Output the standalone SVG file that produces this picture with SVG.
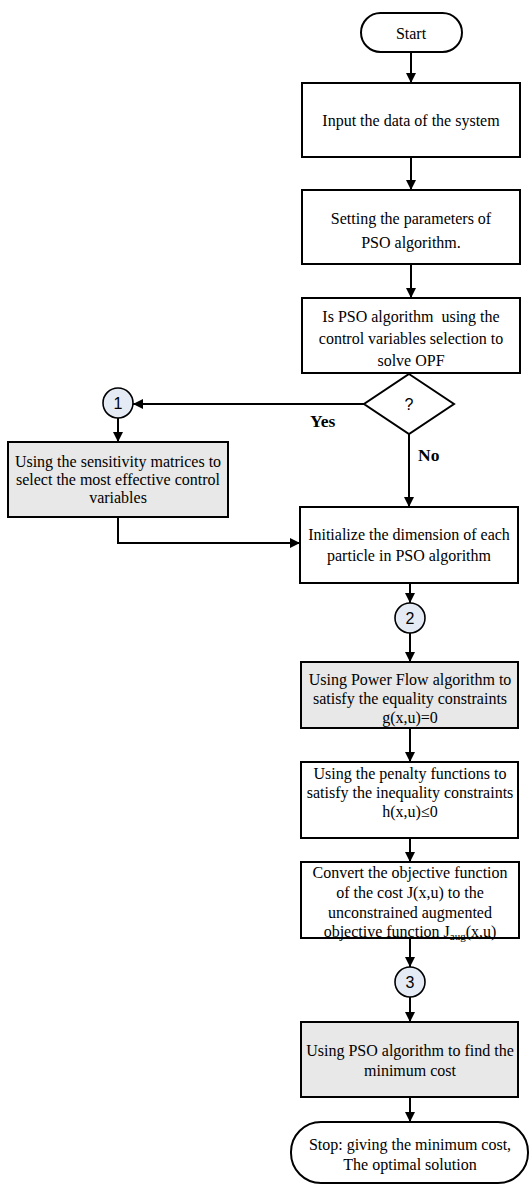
<svg xmlns="http://www.w3.org/2000/svg" width="531" height="1186" viewBox="0 0 531 1186">
<defs>
<marker id="ah" viewBox="0 0 10 10" refX="10" refY="5" markerWidth="5" markerHeight="5" orient="auto" markerUnits="strokeWidth">
<path d="M0,0 L10,5 L0,10 z" fill="#000"/>
</marker>
<style>
.b{fill:#fff;stroke:#000;stroke-width:2}
.g{fill:#e8e8e8;stroke:#000;stroke-width:2}
.c{fill:#e4ebf5;stroke:#000;stroke-width:1.6}
.t{font-family:"Liberation Serif",serif;font-size:16px;fill:#000;text-anchor:middle}
.n{font-family:"Liberation Sans",sans-serif;font-size:16px;fill:#000;text-anchor:middle}
.l{font-family:"Liberation Serif",serif;font-size:17.5px;font-weight:bold;fill:#000}
.e{fill:none;stroke:#000;stroke-width:2}
</style>
</defs>
<rect width="531" height="1186" fill="#fff"/>
<g id="connectors" class="e">
<line x1="411" y1="52" x2="411" y2="83" marker-end="url(#ah)"/>
<line x1="411" y1="157" x2="411" y2="190" marker-end="url(#ah)"/>
<line x1="411" y1="264" x2="411" y2="298" marker-end="url(#ah)"/>
<line x1="364" y1="404" x2="133" y2="404" marker-end="url(#ah)"/>
<line x1="118" y1="418" x2="118" y2="442" marker-end="url(#ah)"/>
<polyline points="118,517 118,543 300,543" marker-end="url(#ah)"/>
<line x1="409" y1="434" x2="409" y2="507" marker-end="url(#ah)"/>
<line x1="410" y1="583" x2="410" y2="603" marker-end="url(#ah)"/>
<line x1="410" y1="633" x2="410" y2="662" marker-end="url(#ah)"/>
<line x1="410" y1="728" x2="410" y2="762" marker-end="url(#ah)"/>
<line x1="410" y1="838" x2="410" y2="862" marker-end="url(#ah)"/>
<line x1="410" y1="938" x2="410" y2="967" marker-end="url(#ah)"/>
<line x1="410" y1="997" x2="410" y2="1022" marker-end="url(#ah)"/>
<line x1="410" y1="1097" x2="410" y2="1122" marker-end="url(#ah)"/>
</g>
<g id="start">
<rect class="b" x="361" y="13" width="101" height="39" rx="19.5"/>
<text class="t" x="411" y="39" font-size="18px">Start</text>
</g>
<g id="input">
<rect class="b" x="302" y="83" width="218" height="74"/>
<text class="t" x="411" y="126" font-size="17.5px">Input the data of the system</text>
</g>
<g id="params">
<rect class="b" x="302" y="190" width="218" height="74"/>
<text class="t" x="411" y="224" font-size="17.5px">Setting the parameters of</text>
<text class="t" x="411" y="248" font-size="17.5px">PSO algorithm.</text>
</g>
<g id="question">
<rect class="b" x="302" y="298" width="218" height="75"/>
<text class="t" x="411" y="322" font-size="16.5px" xml:space="preserve">Is PSO algorithm  using the</text>
<text class="t" x="411" y="344" font-size="16.5px">control variables selection to</text>
<text class="t" x="411" y="366" font-size="16.5px">solve OPF</text>
</g>
<g id="decision">
<polygon class="b" points="409,374 454,404 409,434 364,404"/>
<text class="n" x="409" y="410" font-size="17px">?</text>
<text class="l" x="310" y="427">Yes</text>
<text class="l" x="418" y="461">No</text>
</g>
<g id="c1">
<circle class="c" cx="118" cy="403" r="15"/>
<text class="n" x="118" y="409">1</text>
</g>
<g id="sensitivity">
<rect class="g" x="8" y="442" width="220" height="75"/>
<text class="t" x="118" y="467">Using the sensitivity matrices to</text>
<text class="t" x="118" y="485">select the most effective control</text>
<text class="t" x="118" y="503">variables</text>
</g>
<g id="init">
<rect class="b" x="300" y="507" width="218" height="76"/>
<text class="t" x="409" y="540">Initialize the dimension of each</text>
<text class="t" x="409" y="561">particle in PSO algorithm</text>
</g>
<g id="c2">
<circle class="c" cx="410" cy="618" r="15"/>
<text class="n" x="410" y="624">2</text>
</g>
<g id="powerflow">
<rect class="g" x="301" y="662" width="217" height="66"/>
<text class="t" x="410" y="685">Using Power Flow algorithm to</text>
<text class="t" x="410" y="704">satisfy the equality constraints</text>
<text class="t" x="410" y="723">g(x,u)=0</text>
</g>
<g id="penalty">
<rect class="b" x="301" y="762" width="217" height="76"/>
<text class="t" x="410" y="779" font-size="16.8px">Using the penalty functions to</text>
<text class="t" x="410" y="798" font-size="16.8px">satisfy the inequality constraints</text>
<text class="t" x="410" y="817" font-size="16.8px">h(x,u)≤0</text>
</g>
<g id="convert">
<rect class="b" x="301" y="862" width="218" height="76"/>
<text class="t" x="410" y="878" font-size="17.8px">Convert the objective function</text>
<text class="t" x="410" y="898" font-size="17.8px">of the cost J(x,u) to the</text>
<text class="t" x="410" y="918" font-size="17.8px">unconstrained augmented</text>
<text class="t" x="410" y="937" font-size="17.8px">objective function J<tspan font-size="11px" dy="3">aug</tspan><tspan dy="-3">(x,u)</tspan></text>
</g>
<g id="c3">
<circle class="c" cx="410" cy="982" r="15"/>
<text class="n" x="410" y="988">3</text>
</g>
<g id="pso">
<rect class="g" x="301" y="1022" width="217" height="75"/>
<text class="t" x="410" y="1056">Using PSO algorithm to find the</text>
<text class="t" x="410" y="1076">minimum cost</text>
</g>
<g id="stop">
<rect class="b" x="291" y="1122" width="237" height="61" rx="30"/>
<text class="t" x="410" y="1150" font-size="17.7px">Stop: giving the minimum cost,</text>
<text class="t" x="410" y="1170" font-size="17.7px">The optimal solution</text>
</g>
</svg>
